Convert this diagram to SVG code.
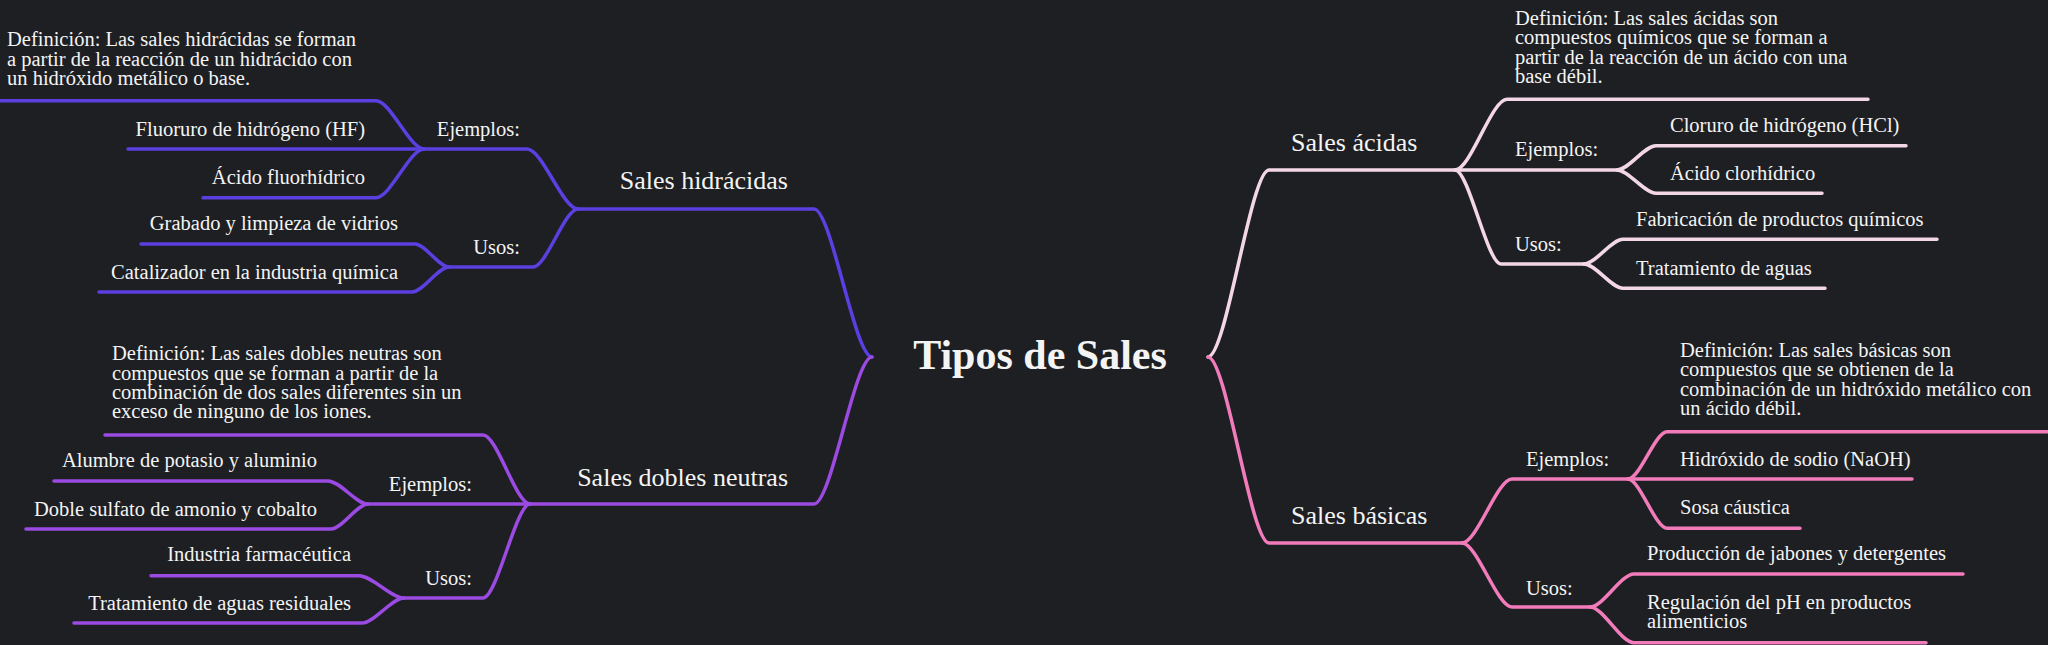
<svg xmlns="http://www.w3.org/2000/svg" width="2048" height="645" viewBox="0 0 2048 645">
<style>
.bg{fill:#1e1f23}
.c{fill:none;stroke-width:3.5;stroke-linecap:round;stroke-linejoin:round}
.b1{stroke:#5b3fe0}.b2{stroke:#9b4ae2}.b3{stroke:#f3d7e6}.b4{stroke:#f27cbb}
text{font-family:"Liberation Serif","DejaVu Serif",serif;fill:#f4f4f4}
.t{font-size:20.5px}
.h{font-size:26px}
.r{font-size:42px;font-weight:bold}
.e{text-anchor:end}
</style>
<rect class="bg" x="0" y="0" width="2048" height="645"/>
<g id="connectors">
<!-- hidracidas -->
<path class="c b1" d="M872,357 C854.6,357 831.4,209 814,209 H578"/>
<path class="c b1" d="M578,209 C562.7,209 542.3,149 527,149 H424"/>
<path class="c b1" d="M424,149 H128"/>
<path class="c b1" d="M424,149 C409.6,149 390.4,197.7 376,197.7 H203"/>
<path class="c b1" d="M424,149 C409.6,149 390.4,100.7 376,100.7 H0"/>
<path class="c b1" d="M578,209 C564.5,209 546.5,267 533,267 H449"/>
<path class="c b1" d="M449,267 C438.8,267 425.2,244 415,244 H141"/>
<path class="c b1" d="M449,267 C437.9,267 423.1,292 412,292 H99"/>
<!-- dobles neutras -->
<path class="c b2" d="M872,357 C854.6,357 831.4,504 814,504 H530"/>
<path class="c b2" d="M530,504 C515.9,504 497.1,435 483,435 H105"/>
<path class="c b2" d="M530,504 H368"/>
<path class="c b2" d="M368,504 C356,504 340,481 328,481 H54"/>
<path class="c b2" d="M368,504 C356.9,504 342.1,529 331,529 H26"/>
<path class="c b2" d="M530,504 C515.9,504 497.1,598 483,598 H404"/>
<path class="c b2" d="M404,598 C390.5,598 372.5,575.7 359,575.7 H151"/>
<path class="c b2" d="M404,598 C391.4,598 374.6,623 362,623 H74"/>
<!-- acidas -->
<path class="c b3" d="M1208,357 C1226.3,357 1250.7,170 1269,170 H1455"/>
<path class="c b3" d="M1455,170 C1470.6,170 1491.4,99.3 1507,99.3 H1868"/>
<path class="c b3" d="M1455,170 H1617"/>
<path class="c b3" d="M1617,170 C1628.7,170 1644.3,145.7 1656,145.7 H1906"/>
<path class="c b3" d="M1617,170 C1628.7,170 1644.3,193.3 1656,193.3 H1822"/>
<path class="c b3" d="M1455,170 C1468.8,170 1487.2,264 1501,264 H1584"/>
<path class="c b3" d="M1584,264 C1595.7,264 1611.3,239.3 1623,239.3 H1937"/>
<path class="c b3" d="M1584,264 C1595.7,264 1611.3,288.3 1623,288.3 H1825"/>
<!-- basicas -->
<path class="c b4" d="M1208,357 C1226.3,357 1250.7,543 1269,543 H1462"/>
<path class="c b4" d="M1462,543 C1477,543 1497,479 1512,479 H1628"/>
<path class="c b4" d="M1628,479 C1639.7,479 1655.3,431.7 1667,431.7 H2050"/>
<path class="c b4" d="M1628,479 H1912"/>
<path class="c b4" d="M1628,479 C1639.7,479 1655.3,528.3 1667,528.3 H1800"/>
<path class="c b4" d="M1462,543 C1477,543 1497,607 1512,607 H1590"/>
<path class="c b4" d="M1590,607 C1603.2,607 1620.8,574 1634,574 H1963"/>
<path class="c b4" d="M1590,607 C1603.2,607 1620.8,642.7 1634,642.7 H1926"/>
</g>
<g id="root"><text class="r" x="1040" y="369" text-anchor="middle">Tipos de Sales</text></g>
<g id="hidracidas">
<text class="h e" x="788" y="189">Sales hidrácidas</text>
<text class="t" x="7" y="46">Definición: Las sales hidrácidas se forman</text>
<text class="t" x="7" y="65.5">a partir de la reacción de un hidrácido con</text>
<text class="t" x="7" y="85">un hidróxido metálico o base.</text>
<text class="t e" x="520" y="136">Ejemplos:</text>
<text class="t e" x="365" y="136">Fluoruro de hidrógeno (HF)</text>
<text class="t e" x="365" y="184">Ácido fluorhídrico</text>
<text class="t e" x="520" y="254">Usos:</text>
<text class="t e" x="398" y="230">Grabado y limpieza de vidrios</text>
<text class="t e" x="398" y="279">Catalizador en la industria química</text>
</g>
<g id="dobles-neutras">
<text class="h e" x="788" y="485.7">Sales dobles neutras</text>
<text class="t" x="112" y="360">Definición: Las sales dobles neutras son</text>
<text class="t" x="112" y="379.5">compuestos que se forman a partir de la</text>
<text class="t" x="112" y="399">combinación de dos sales diferentes sin un</text>
<text class="t" x="112" y="418">exceso de ninguno de los iones.</text>
<text class="t e" x="472" y="491">Ejemplos:</text>
<text class="t e" x="317" y="467">Alumbre de potasio y aluminio</text>
<text class="t e" x="317" y="516">Doble sulfato de amonio y cobalto</text>
<text class="t e" x="472" y="585.3">Usos:</text>
<text class="t e" x="351" y="561">Industria farmacéutica</text>
<text class="t e" x="351" y="610">Tratamiento de aguas residuales</text>
</g>
<g id="acidas">
<text class="h" x="1291" y="150.7">Sales ácidas</text>
<text class="t" x="1515" y="24.5">Definición: Las sales ácidas son</text>
<text class="t" x="1515" y="44">compuestos químicos que se forman a</text>
<text class="t" x="1515" y="63.5">partir de la reacción de un ácido con una</text>
<text class="t" x="1515" y="83">base débil.</text>
<text class="t" x="1515" y="156.3">Ejemplos:</text>
<text class="t" x="1670" y="132.3">Cloruro de hidrógeno (HCl)</text>
<text class="t" x="1670" y="180.3">Ácido clorhídrico</text>
<text class="t" x="1515" y="251">Usos:</text>
<text class="t" x="1636" y="226.3">Fabricación de productos químicos</text>
<text class="t" x="1636" y="275.3">Tratamiento de aguas</text>
</g>
<g id="basicas">
<text class="h" x="1291" y="524">Sales básicas</text>
<text class="t" x="1680" y="356.5">Definición: Las sales básicas son</text>
<text class="t" x="1680" y="376">compuestos que se obtienen de la</text>
<text class="t" x="1680" y="395.5">combinación de un hidróxido metálico con</text>
<text class="t" x="1680" y="415">un ácido débil.</text>
<text class="t" x="1526" y="466.3">Ejemplos:</text>
<text class="t" x="1680" y="466.3">Hidróxido de sodio (NaOH)</text>
<text class="t" x="1680" y="514.3">Sosa cáustica</text>
<text class="t" x="1526" y="595.3">Usos:</text>
<text class="t" x="1647" y="560.3">Producción de jabones y detergentes</text>
<text class="t" x="1647" y="609">Regulación del pH en productos</text>
<text class="t" x="1647" y="628">alimenticios</text>
</g>
</svg>
